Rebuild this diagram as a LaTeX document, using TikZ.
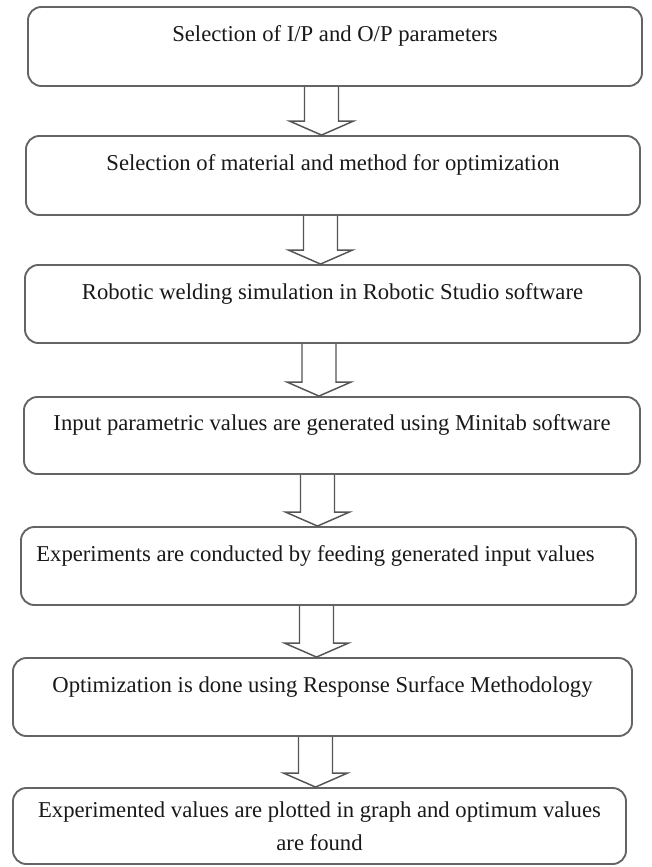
\documentclass[tikz,border=0pt]{standalone}
\usepackage{fontspec}
\setmainfont{Liberation Serif}
\usepackage{tikz}
\usetikzlibrary{calc}
\definecolor{boxgray}{RGB}{100,100,100}
\definecolor{inkgray}{RGB}{25,25,25}

\tikzset{
  stepbox/.style={draw=boxgray, line width=1.4pt, rounded corners=10pt, inner sep=0pt,
    text=inkgray, font=\fontsize{17}{24.75}\selectfont},
  toptext/.style={text height=25pt, text depth=32pt},
  blockarrow/.style={draw=boxgray!85!black, line width=1.1pt, line join=miter}
}

\newcommand{\flowarrow}[3]{%
  \draw[blockarrow] (#3-17,0 |- #1.south) -- ($(#3,0 |- #2.north)+(-17,-14)$)
    -- ($(#3,0 |- #2.north)+(-32,-14)$) -- (#3,0 |- #2.north)
    -- ($(#3,0 |- #2.north)+(32,-14)$) -- ($(#3,0 |- #2.north)+(17,-14)$)
    -- (#3+17,0 |- #1.south);
}

\begin{document}
\begin{tikzpicture}[x=0.75pt, y=-0.75pt]
    \path[fill=white] (0,0) rectangle (652,867);

    \node [stepbox, toptext, minimum width=460.5pt, minimum height=59.25pt] (s1) at (335,46.5) {Selection of I/P and O/P parameters};
    \node [stepbox, toptext, minimum width=460.5pt, minimum height=59.25pt] (s2) at (333,175.5) {Selection of material and method for optimization};
    \node [stepbox, toptext, minimum width=461.25pt, minimum height=58.5pt] (s3) at (332.5,304) {Robotic welding simulation in Robotic Studio software};
    \node [stepbox, toptext, minimum width=462pt, minimum height=57.75pt] (s4) at (332,435.5) {Input parametric values are generated using Minitab software};
    \node [stepbox, toptext, minimum width=461.25pt, minimum height=58.5pt] (s5) at (328.5,566) {Experiments are conducted by feeding generated input values\hspace*{19.5pt}};
    \node [stepbox, toptext, minimum width=464.25pt, minimum height=58.5pt] (s6) at (322.5,697) {Optimization is done using Response Surface Methodology};
    \node [stepbox, align=center, minimum width=459.75pt, minimum height=57pt] (s7) at (319.5,826) {Experimented values are plotted in graph and optimum values\\ are found};

    \flowarrow{s1}{s2}{321.5}
    \flowarrow{s2}{s3}{320.5}
    \flowarrow{s3}{s4}{319}
    \flowarrow{s4}{s5}{317.5}
    \flowarrow{s5}{s6}{316.5}
    \flowarrow{s6}{s7}{315.5}
\end{tikzpicture}
\end{document}
